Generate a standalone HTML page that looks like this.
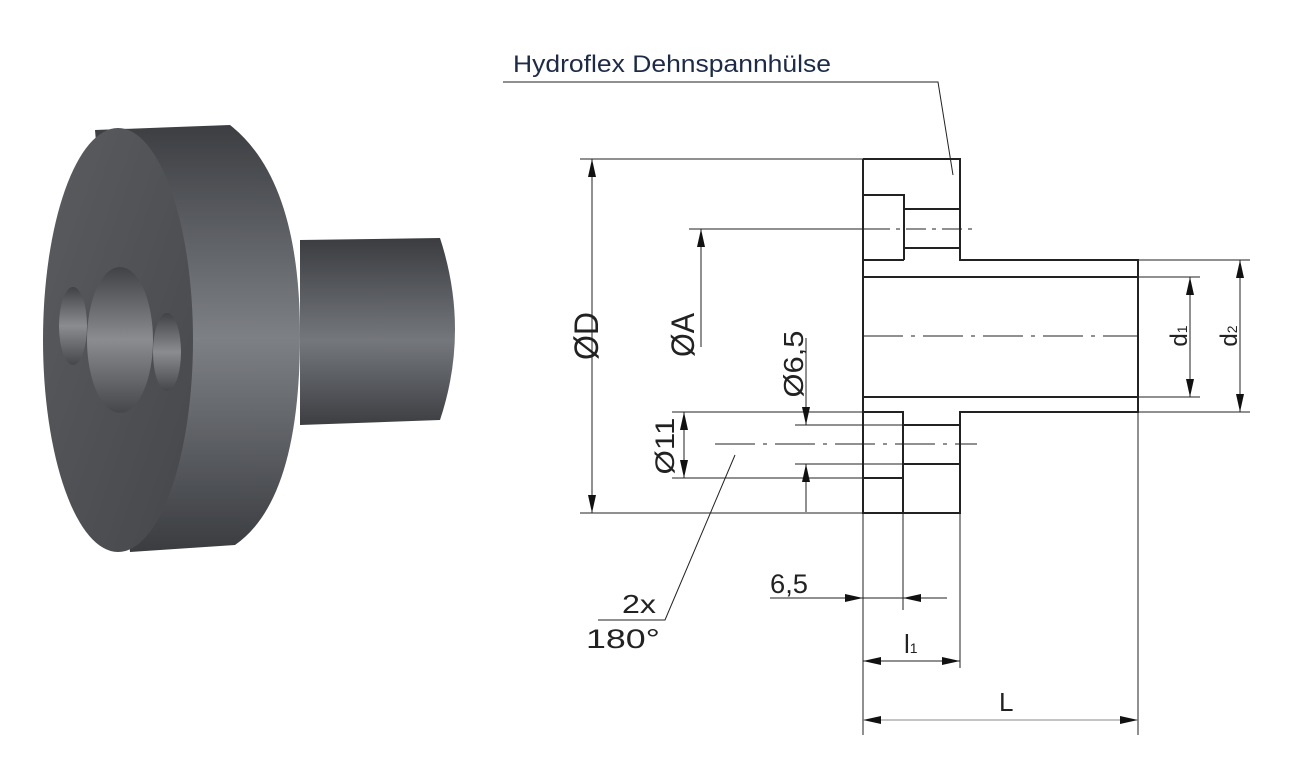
<!DOCTYPE html>
<html><head><meta charset="utf-8"><style>
html,body{margin:0;padding:0;background:#fff;}
svg{display:block;}
text{font-family:"Liberation Sans",sans-serif;}
</style></head><body>
<svg width="1316" height="778" viewBox="0 0 1316 778" xmlns="http://www.w3.org/2000/svg">
<defs>
<linearGradient id="rim" x1="0" y1="0" x2="0" y2="1">
<stop offset="0" stop-color="#3c3e42"/><stop offset="0.5" stop-color="#7d8085"/><stop offset="1" stop-color="#3a3c40"/>
</linearGradient>
<linearGradient id="shaft" x1="0" y1="0" x2="0" y2="1">
<stop offset="0" stop-color="#3a3c40"/><stop offset="0.55" stop-color="#74777c"/><stop offset="1" stop-color="#3c3e42"/>
</linearGradient>
<linearGradient id="face" x1="0" y1="0" x2="1" y2="1">
<stop offset="0" stop-color="#5a5c60"/><stop offset="1" stop-color="#45474b"/>
</linearGradient>
<linearGradient id="hole" x1="0" y1="0" x2="0" y2="1">
<stop offset="0" stop-color="#404246"/><stop offset="0.5" stop-color="#8a8c90"/><stop offset="1" stop-color="#45474b"/>
</linearGradient>
<marker id="a" viewBox="0 0 18 8" refX="18" refY="4" markerWidth="18" markerHeight="8" markerUnits="userSpaceOnUse" orient="auto-start-reverse"><path d="M0,0 L18,4 L0,8 Z" fill="#111"/></marker>
</defs>

<path d="M300,240 L440,238 Q470,330 440,420 L300,425 Z" fill="url(#shaft)"/>
<path d="M95,130 L230,125 Q300,180 300,335 Q300,500 235,545 L130,552 Z" fill="url(#rim)"/>
<ellipse cx="118" cy="340" rx="75" ry="212" fill="url(#face)"/>
<ellipse cx="120" cy="340" rx="33" ry="73" fill="url(#hole)"/>
<ellipse cx="73" cy="326" rx="14" ry="39" fill="url(#hole)"/>
<ellipse cx="167" cy="352" rx="14" ry="39" fill="url(#hole)"/>

<text x="513" y="72" font-size="24" fill="#1c2b4a" textLength="318" lengthAdjust="spacingAndGlyphs">Hydroflex Dehnspannhülse</text>
<g stroke="#222" stroke-width="1" fill="none">
<polyline points="503,82 938,82 953,175"/>

<g stroke-width="2">
<polyline points="863,159 960,159 960,260 1138,260 1138,412 960,412 960,513 863,513 863,159"/>
<polyline points="863,195 904,195 904,260"/>
<line x1="904" y1="209" x2="960" y2="209"/>
<line x1="904" y1="248" x2="960" y2="248"/>
<line x1="863" y1="260" x2="904" y2="260"/>
<line x1="863" y1="277" x2="1138" y2="277"/>
<line x1="863" y1="397" x2="1138" y2="397"/>
<polyline points="863,412 903,412 903,513"/>
<line x1="903" y1="425" x2="960" y2="425"/>
<line x1="903" y1="464" x2="960" y2="464"/>
<line x1="863" y1="478" x2="903" y2="478"/>
</g>
<line x1="863" y1="336" x2="1138" y2="336" stroke-dasharray="40,8,4,8"/>
<line x1="870" y1="229" x2="978" y2="229" stroke-dasharray="20,6,4,6"/>
<line x1="715" y1="444" x2="977" y2="444" stroke-dasharray="40,8,4,8"/>

<line x1="580" y1="159" x2="863" y2="159"/>
<line x1="580" y1="513" x2="863" y2="513"/>
<line x1="689" y1="229" x2="870" y2="229"/>
<line x1="672" y1="412" x2="863" y2="412"/>
<line x1="672" y1="478" x2="863" y2="478"/>
<line x1="795" y1="425" x2="903" y2="425"/>
<line x1="795" y1="464" x2="903" y2="464"/>
<line x1="1138" y1="260" x2="1250" y2="260"/>
<line x1="1138" y1="412" x2="1250" y2="412"/>
<line x1="1138" y1="277" x2="1200" y2="277"/>
<line x1="1138" y1="397" x2="1200" y2="397"/>
<line x1="863" y1="513" x2="863" y2="735"/>
<line x1="903" y1="478" x2="903" y2="610"/>
<line x1="960" y1="513" x2="960" y2="668"/>
<line x1="1138" y1="412" x2="1138" y2="735"/>

<line x1="592" y1="159" x2="592" y2="513" marker-start="url(#a)" marker-end="url(#a)"/>
<line x1="701" y1="347" x2="701" y2="229" marker-end="url(#a)"/>
<line x1="806" y1="338" x2="806" y2="425" marker-end="url(#a)"/>
<line x1="806" y1="512" x2="806" y2="464" marker-end="url(#a)"/>
<line x1="684" y1="412" x2="684" y2="478" marker-start="url(#a)" marker-end="url(#a)"/>
<line x1="1190" y1="277" x2="1190" y2="397" marker-start="url(#a)" marker-end="url(#a)"/>
<line x1="1240" y1="260" x2="1240" y2="412" marker-start="url(#a)" marker-end="url(#a)"/>
<line x1="770" y1="598" x2="863" y2="598" marker-end="url(#a)"/>
<line x1="947" y1="598" x2="903" y2="598" marker-end="url(#a)"/>
<line x1="863" y1="598" x2="903" y2="598"/>
<line x1="863" y1="661" x2="960" y2="661" marker-start="url(#a)" marker-end="url(#a)"/>
<line x1="863" y1="720" x2="1138" y2="720" stroke="#888" marker-start="url(#a)" marker-end="url(#a)"/>
<polyline points="735,455 665,620 598,620"/>
</g>

<g fill="#222" text-anchor="middle">
<text transform="translate(598,336) rotate(-90)" font-size="34" textLength="48" lengthAdjust="spacingAndGlyphs">ØD</text>
<text transform="translate(694,335) rotate(-90)" font-size="32" textLength="44" lengthAdjust="spacingAndGlyphs">ØA</text>
<text transform="translate(803,364) rotate(-90)" font-size="28" textLength="67" lengthAdjust="spacingAndGlyphs">Ø6,5</text>
<text transform="translate(674,446) rotate(-90)" font-size="27" textLength="57" lengthAdjust="spacingAndGlyphs">Ø11</text>
<text transform="translate(1187,336) rotate(-90)" font-size="24">d<tspan font-size="14">1</tspan></text>
<text transform="translate(1237,336) rotate(-90)" font-size="24">d<tspan font-size="14">2</tspan></text>
</g>
<g fill="#222">
<text x="770" y="593" font-size="27" textLength="38" lengthAdjust="spacingAndGlyphs">6,5</text>
<text x="622" y="613" font-size="26" textLength="34" lengthAdjust="spacingAndGlyphs">2x</text>
<text x="586" y="648" font-size="27" textLength="74" lengthAdjust="spacingAndGlyphs">180°</text>
<text x="904" y="653" font-size="26">l<tspan font-size="14">1</tspan></text>
<text x="999" y="711" font-size="26">L</text>
</g>
</svg>
</body></html>
